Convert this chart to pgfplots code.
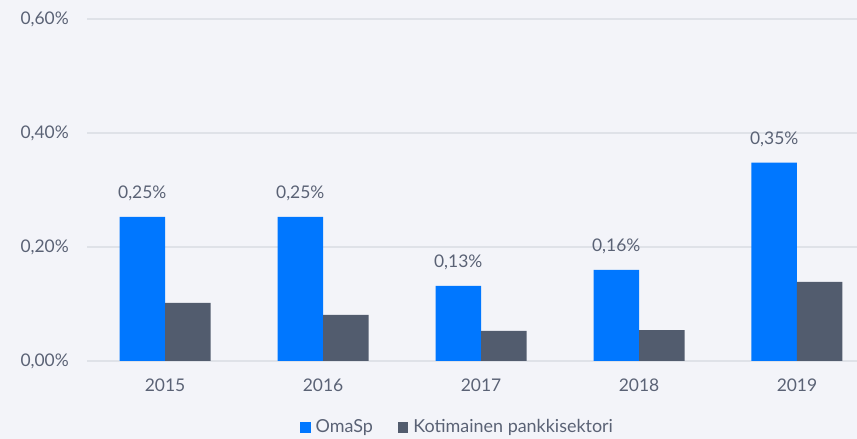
\documentclass[border=0pt]{standalone}
\usepackage{pgfplots}
\pgfplotsset{compat=1.18}
\usepackage{fontspec}
\setmainfont{Lato}
\definecolor{bg}{HTML}{F3F4F9}
\definecolor{omablue}{HTML}{0077FF}
\definecolor{kgrey}{HTML}{525C6E}
\definecolor{txt}{HTML}{5A6275}
\definecolor{gridc}{HTML}{DFE2E8}
\newcommand{\lblfont}{\fontsize{17.5}{20}\selectfont}
\begin{document}
\begin{tikzpicture}[x=1bp,y=1bp]
\path[use as bounding box, fill=bg] (0,0) rectangle (857,439);
\begin{axis}[
  at={(87bp,78bp)}, anchor=south west,
  scale only axis, width=770bp, height=342bp,
  xmin=-0.494, xmax=4.38, ymin=0, ymax=0.6,
  axis line style={draw=none},
  major tick length=0pt,
  ymajorgrids, grid style={gridc, line width=1.5bp},
  ytick={0,0.2,0.4,0.6},
  yticklabels={{0,00\%},{0,20\%},{0,40\%},{0,60\%}},
  xtick={0,1,2,3,4},
  xticklabels={2015,2016,2017,2018,2019},
  tick label style={font=\lblfont, text=txt},
  yticklabel style={anchor=east, inner sep=0pt, xshift=-18bp},
  xticklabel style={anchor=center, inner sep=0pt, yshift=-24bp},
  ybar=0pt, bar width=45.5bp,
  legend style={at={(0.48,-0.171)}, anchor=north, legend columns=2, draw=none, fill=none,
    inner sep=0pt, font=\fontsize{18}{20}\selectfont, text=txt,
    nodes={inner sep=0pt},
    /tikz/every even column/.append style={column sep=25bp}},
  legend image code/.code={\path[#1, draw=none] (0bp,-5.5bp) rectangle (10.5bp,5.5bp); \path (15.5bp,0bp);},
]
\addplot[fill=omablue, draw=none,
  nodes near coords, point meta=explicit symbolic,
  every node near coord/.append style={font=\lblfont, text=txt, anchor=south, inner sep=0pt, yshift=16bp}]
  coordinates {(0,0.253) [0,25\%] (1,0.253) [0,25\%] (2,0.132) [0,13\%] (3,0.160) [0,16\%] (4,0.348) [0,35\%]};
\addplot[fill=kgrey, draw=none]
  coordinates {(0,0.102) (1,0.081) (2,0.053) (3,0.054) (4,0.139)};
\legend{OmaSp, Kotimainen pankkisektori}
\end{axis}
\end{tikzpicture}
\end{document}
